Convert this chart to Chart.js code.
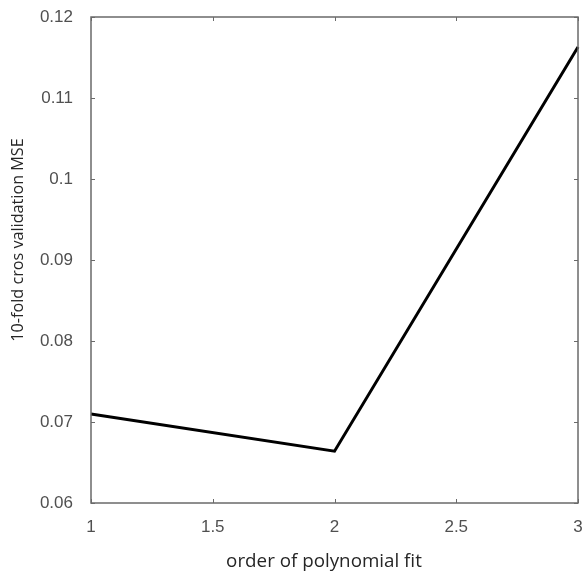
<!DOCTYPE html>
<html>
<head>
<meta charset="utf-8">
<script src="https://cdn.jsdelivr.net/npm/chart.js@4"></script>
<style>
  html, body { margin: 0; padding: 0; background: #fff; }
  #wrap { width: 584px; height: 573px; }
</style>
</head>
<body>
<div id="wrap"><canvas id="mse-chart" width="584" height="573"></canvas></div>
<script>
// данные с графика
const orders = [1, 2, 3];
const mseValues = [0.0710, 0.0664, 0.1163];
const xTicks = [1, 1.5, 2, 2.5, 3];
const yTicks = [0.06, 0.07, 0.08, 0.09, 0.1, 0.11, 0.12];
const xTitle = 'order of polynomial fit';
const yTitle = '10-fold cros validation MSE';

const axisColor = '#6a6a6a';
const tickFont = { family: 'Arial, "Liberation Sans", sans-serif', size: 17 };

// подбираем размер шрифта под нужную ширину текста
function fitFont(ctx, text, width) {
    let size = 20;
    ctx.font = size + 'px "Open Sans", sans-serif';
    size = size * width / ctx.measureText(text).width;
    ctx.font = size.toFixed(1) + 'px "Open Sans", sans-serif';
}

// рамка, внутренние засечки и подписи осей
const frame = {
    id: 'frame',
    afterDraw(chart) {
        const ctx = chart.ctx;
        const a = chart.chartArea;
        const xs = chart.scales.x, ys = chart.scales.y;
        ctx.save();
        ctx.strokeStyle = axisColor;
        ctx.lineWidth = 1.5;
        ctx.strokeRect(a.left, a.top, a.right - a.left, a.bottom - a.top);
        ctx.lineWidth = 1;
        ctx.beginPath();
        xTicks.forEach(v => {
            const px = Math.round(xs.getPixelForValue(v)) + 0.5;
            ctx.moveTo(px, a.bottom); ctx.lineTo(px, a.bottom - 4);
            ctx.moveTo(px, a.top); ctx.lineTo(px, a.top + 4);
        });
        yTicks.forEach(v => {
            const py = Math.round(ys.getPixelForValue(v)) + 0.5;
            ctx.moveTo(a.left, py); ctx.lineTo(a.left + 4, py);
            ctx.moveTo(a.right, py); ctx.lineTo(a.right - 4, py);
        });
        ctx.stroke();

        ctx.fillStyle = '#262626';
        ctx.textAlign = 'center';
        ctx.textBaseline = 'middle';
        fitFont(ctx, xTitle, 196);
        ctx.fillText(xTitle, 324, 562);
        fitFont(ctx, yTitle, 204);
        ctx.translate(18, 240);
        ctx.rotate(-Math.PI / 2);
        ctx.fillText(yTitle, 0, 0);
        ctx.restore();
    }
};

new Chart(document.getElementById('mse-chart').getContext('2d'), {
    type: 'line',
    data: {
        datasets: [{
            data: orders.map((x, i) => ({ x: x, y: mseValues[i] })),
            borderColor: '#000',
            borderWidth: 3,
            pointRadius: 0,
            tension: 0,
            clip: false
        }]
    },
    options: {
        responsive: false,
        animation: false,
        devicePixelRatio: 1,
        layout: { padding: { left: 0, top: 17, right: 6, bottom: 0 } },
        plugins: { legend: { display: false }, tooltip: { enabled: false } },
        scales: {
            x: {
                type: 'linear',
                min: 1,
                max: 3,
                afterBuildTicks: s => { s.ticks = xTicks.map(v => ({ value: v })); },
                afterFit: s => { s.height = 70; s.paddingLeft = 0; s.paddingRight = 0; },
                grid: { display: false },
                border: { display: false },
                ticks: { color: '#505050', font: tickFont, padding: 6, maxRotation: 0, autoSkip: false,
                    callback: v => String(v) }
            },
            y: {
                type: 'linear',
                min: 0.06,
                max: 0.12,
                afterBuildTicks: s => { s.ticks = yTicks.map(v => ({ value: v })); },
                afterFit: s => { s.width = 91; s.paddingTop = 0; s.paddingBottom = 0; },
                grid: { display: false },
                border: { display: false },
                ticks: { color: '#505050', font: tickFont, padding: 10, autoSkip: false,
                    callback: v => String(+v.toFixed(2)) }
            }
        }
    },
    plugins: [frame]
});
</script>
</body>
</html>
